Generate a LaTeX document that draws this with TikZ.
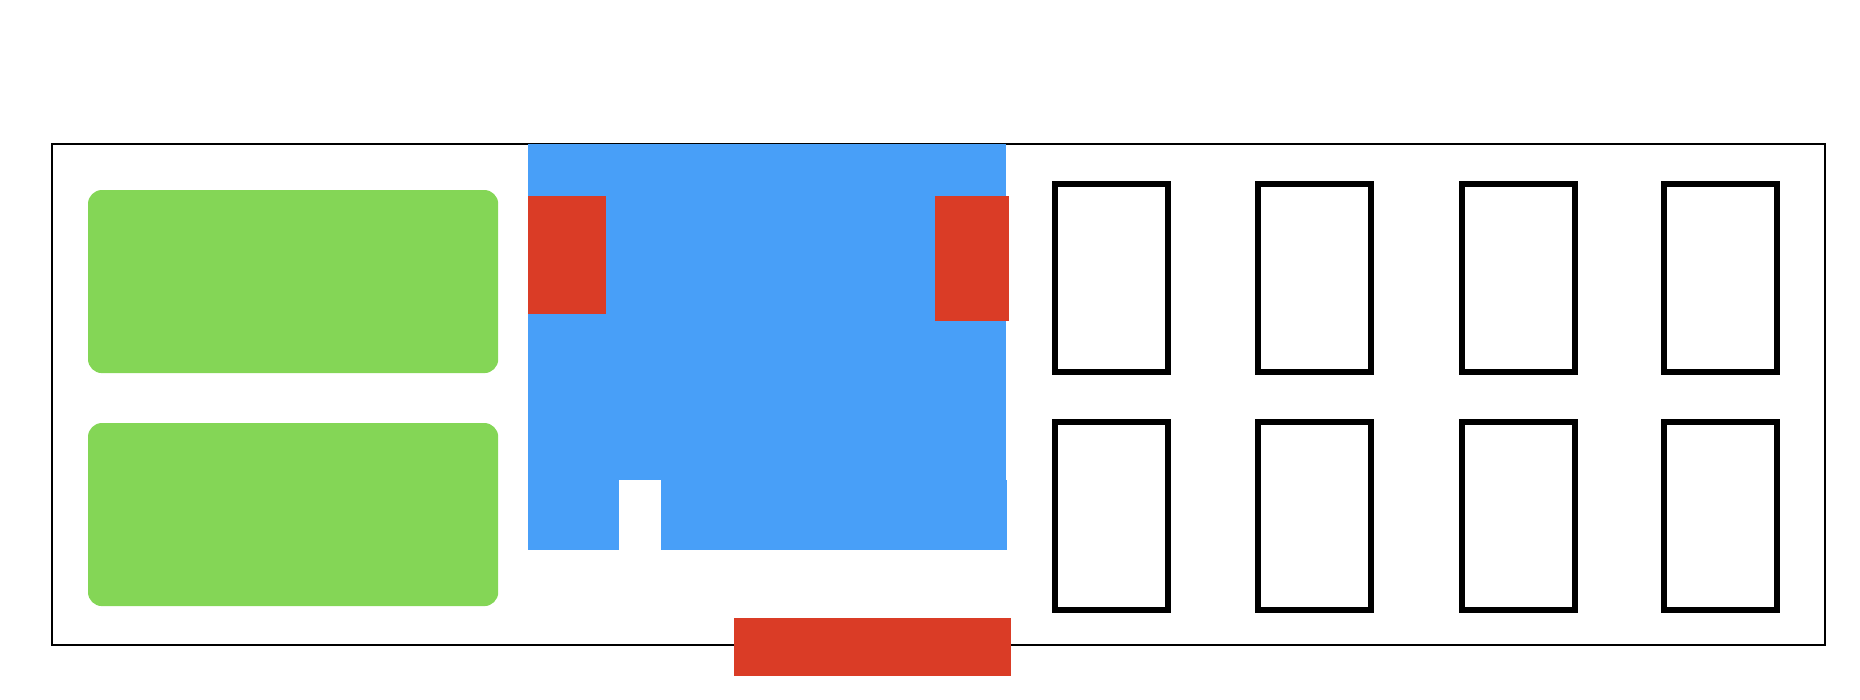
\documentclass[tikz,border=0pt]{standalone}
\usetikzlibrary{positioning}
\usepackage{xcolor}
\definecolor{panelgreen}{HTML}{84D656}
\definecolor{panelblue}{HTML}{489FF8}
\definecolor{panelred}{HTML}{DA3C26}

\begin{document}
\begin{tikzpicture}[x=0.01cm, y=-0.01cm, every node/.style={
    rectangle,
    anchor=north west,
    inner sep=0pt,
    outer sep=0pt
},
greenbox/.style={fill=panelgreen, rounded corners=0.14cm, minimum width=4.10cm, minimum height=1.83cm},
bluebox/.style={fill=panelblue},
redbox/.style={fill=panelred},
glyphbox/.style={draw=black, line width=0.06cm, minimum width=1.13cm, minimum height=1.88cm}
]
    \useasboundingbox (0,0) rectangle (1860,700);

    \node (outer_frame) [draw=black, line width=0.02cm, minimum width=17.72cm, minimum height=5.015cm] at (52, 143.5) {};

    \node (green_top) [greenbox] at (88, 190) {};
    \node (green_bottom) [greenbox] at (88, 423) {};

    \node (blue_main) [bluebox, minimum width=4.78cm, minimum height=3.36cm] at (528, 143.5) {};
    \node (blue_foot_left) [bluebox, minimum width=0.91cm, minimum height=0.70cm] at (528, 480) {};
    \node (blue_foot_right) [bluebox, minimum width=3.46cm, minimum height=0.70cm] at (661, 480) {};

    \node (red_left) [redbox, minimum width=0.78cm, minimum height=1.18cm] at (528, 196) {};
    \node (red_right) [redbox, minimum width=0.74cm, minimum height=1.25cm] at (935, 196) {};
    \node (red_bottom) [redbox, minimum width=2.77cm, minimum height=0.58cm] at (734, 618) {};

    % empty glyph boxes
    \foreach \col/\x in {1/1055, 2/1258, 3/1462, 4/1664}
    {
        \node (glyph_top_\col) [glyphbox] at (\x, 184) {};
        \node (glyph_bottom_\col) [glyphbox] at (\x, 422) {};
    }
\end{tikzpicture}
\end{document}
